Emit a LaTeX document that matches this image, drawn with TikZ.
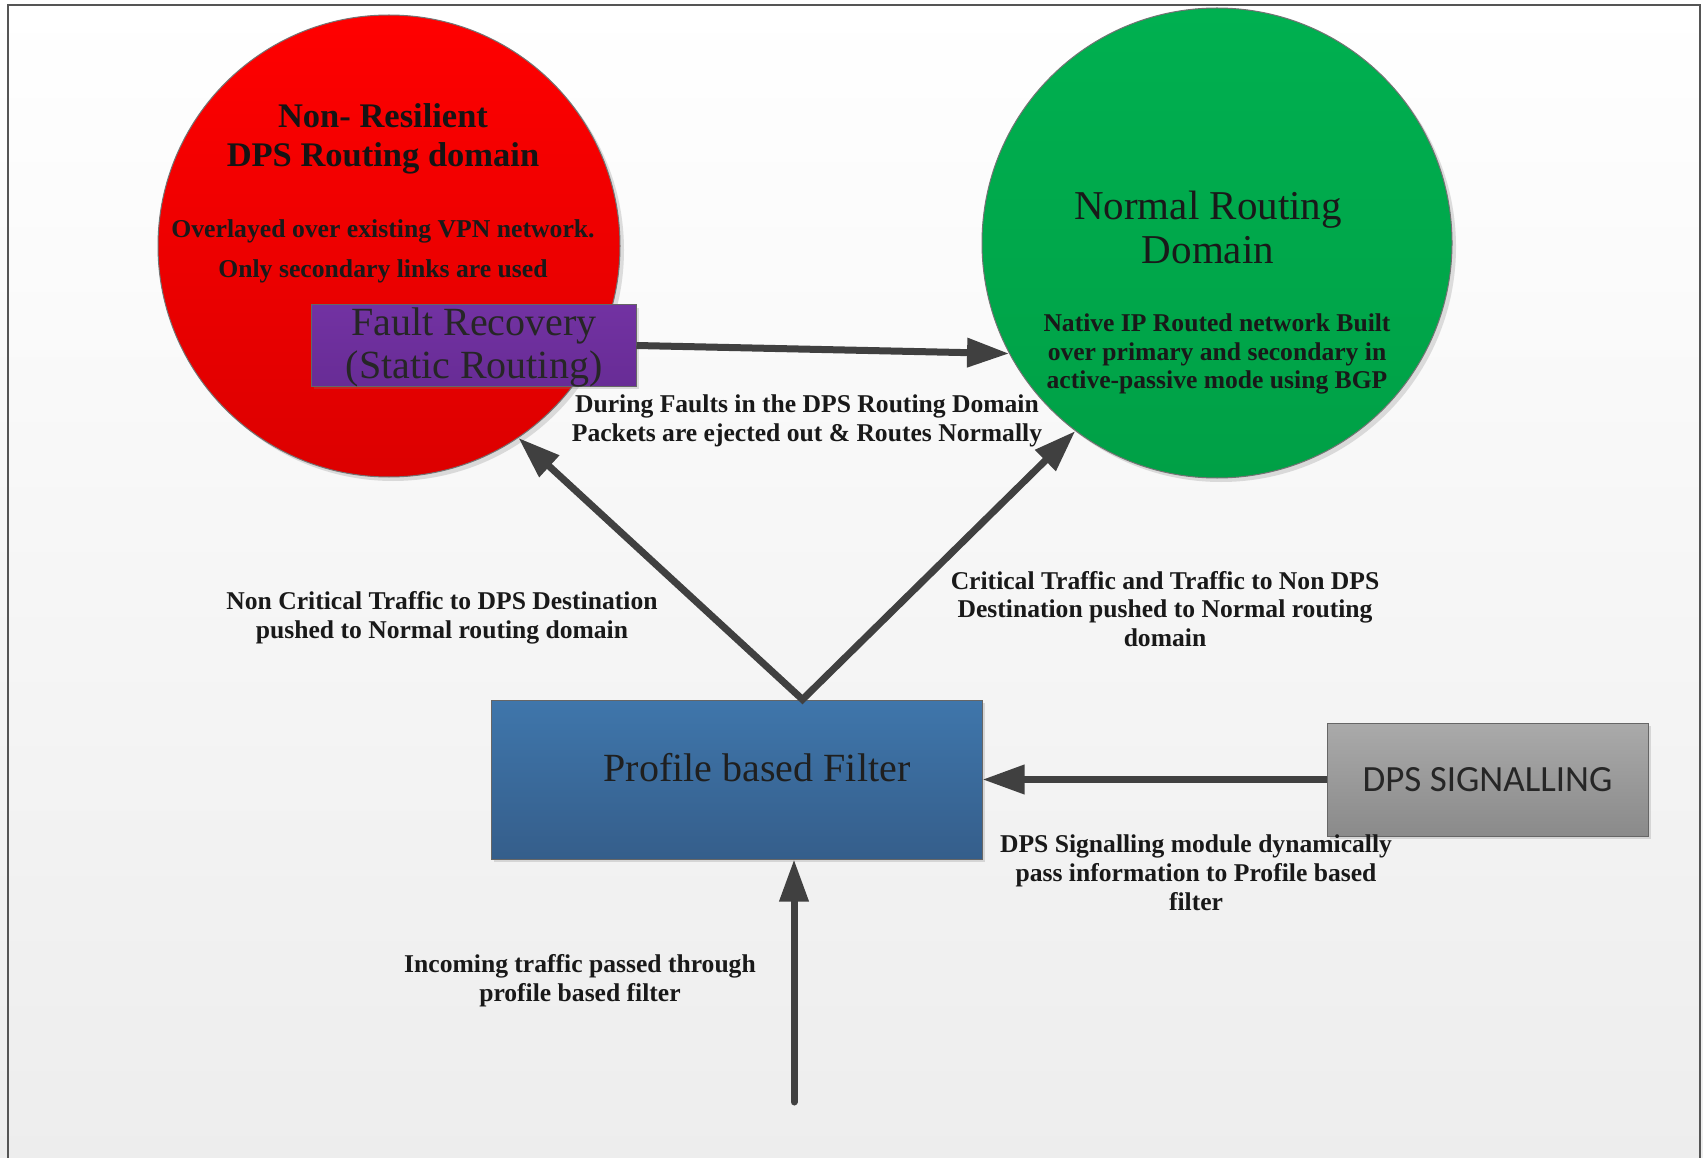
\documentclass[tikz,border=0pt]{standalone}
\usepackage{fontspec}
\setmainfont{Liberation Serif}
\newfontfamily\boxsans{Carlito}
\usetikzlibrary{arrows.meta,shadows,calc}

\definecolor{arrowgray}{HTML}{404040}
\definecolor{framegray}{HTML}{555555}
\definecolor{redtop}{HTML}{FF0000}
\definecolor{redbot}{HTML}{DC0000}
\definecolor{greentop}{HTML}{00B050}
\definecolor{greenbot}{HTML}{00A046}
\definecolor{purpletop}{HTML}{7232A2}
\definecolor{purplebot}{HTML}{682C96}
\definecolor{bluetop}{HTML}{3F76AB}
\definecolor{bluebot}{HTML}{355E8B}
\definecolor{greytop}{HTML}{AAAAAA}
\definecolor{greybot}{HTML}{8A8A8A}

\begin{document}
\begin{tikzpicture}[x=1pt,y=-1pt,
  conn/.style={draw=arrowgray, line width=7pt, line join=miter,
    -{Triangle[length=42pt,width=28pt]}},
  domaincircle/.style={circle, inner sep=0pt, draw=black!55, line width=1pt,
    drop shadow={opacity=0.25, shadow xshift=4pt, shadow yshift=-4pt}},
  block/.style={rectangle, inner sep=0pt, draw=black!60, line width=1pt,
    drop shadow={opacity=0.25, shadow xshift=3pt, shadow yshift=-3pt}},
  note/.style={align=center, text=black!90,
    font=\bfseries\fontsize{25.6}{28.8}\selectfont},
  bignote/.style={align=center, text=black!90,
    font=\fontsize{41}{44}\selectfont},
]
\useasboundingbox (0,0) rectangle (1703,1158);
\clip (0,0) rectangle (1703,1158);

% page background and frame
\shade[top color=white, bottom color=black!7] (0,0) rectangle (1703,1158);
\draw[framegray, line width=2.5pt] (8,5) rectangle (1700,1190);

% routing domains
\node[domaincircle, minimum size=462pt, top color=redtop, bottom color=redbot] (red) at (389,246) {};
\node[domaincircle, minimum size=470pt, top color=greentop, bottom color=greenbot] (green) at (1217,243) {};

% texts of the non-resilient domain
\node[align=center, text=black!92, font=\bfseries\fontsize{34.5}{38.5}\selectfont]
  (redtitle) at (383,139) {Non- Resilient\\DPS Routing domain};
\node[note, font=\bfseries\fontsize{25.7}{40}\selectfont] (redsub) at (383,251)
  {Overlayed over existing VPN network.\\Only secondary links are used};

% fault recovery block
\node[block, minimum width=325pt, minimum height=81pt,
  top color=purpletop, bottom color=purplebot] (fault) at (473.5,345.5) {};
\node[bignote, font=\fontsize{40}{43}\selectfont, text=black!85] (faulttext) at (474,347)
  {Fault Recovery\\(Static Routing)};

% texts of the normal domain
\node[bignote] (greentitle) at (1208,227) {Normal Routing\\Domain};
\node[note] (greensub) at (1217,354)
  {Native IP Routed network Built\\over primary and secondary in\\active-passive mode using BGP};

% filter and signalling blocks
\node[block, minimum width=491pt, minimum height=159pt,
  top color=bluetop, bottom color=bluebot] (filter) at (736.5,779.5) {};
\node[bignote, font=\fontsize{40}{44}\selectfont, text=black!88] (filtertext) at (757,768) {Profile based Filter};
\node[block, minimum width=321pt, minimum height=113pt,
  top color=greytop, bottom color=greybot, text=black!85,
  font=\boxsans\fontsize{37}{40}\selectfont] (signal) at (1487.5,779.5) {DPS SIGNALLING};

% connectors
\coordinate (split) at ([xshift=66pt]filter.north);
\coordinate (source) at (794,1102);
\draw[conn] (fault.east) -- (green.-152);
\draw[conn, {Triangle[length=42pt,width=28pt]}-{Triangle[length=42pt,width=28pt]}]
  (red.-56) -- (split) -- (green.-127);
\draw[conn] (signal.west) -- (filter.east);
\draw[conn, line cap=round] (source) -- (source |- filter.south);

% connector labels
\node[note] (faultnote) at (807,421)
  {During Faults in the DPS Routing Domain\\Packets are ejected out \& Routes Normally};
\node[note] (leftnote) at (442,618)
  {Non Critical Traffic to DPS Destination\\pushed to Normal routing domain};
\node[note] (rightnote) at (1165,609)
  {Critical Traffic and Traffic to Non DPS\\Destination pushed to Normal routing\\domain};
\node[note] (signalnote) at (1196,873)
  {DPS Signalling module dynamically\\pass information to Profile based\\filter};
\node[note] (innote) at (580,981)
  {Incoming traffic passed through\\profile based filter};
\end{tikzpicture}
\end{document}
